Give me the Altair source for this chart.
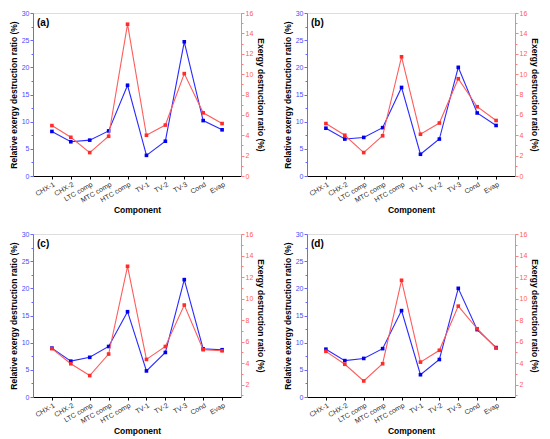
import altair as alt
import pandas as pd

components = ["CHX-1", "CHX-2", "LTC comp", "MTC comp", "HTC comp",
              "TV-1", "TV-2", "TV-3", "Cond", "Evap"]

# Relative exergy destruction ratio (%) - left axis (blue)
rel_a = [8.2, 6.3, 6.6, 8.3, 16.7, 3.8, 6.4, 24.7, 10.2, 8.5]
rel_b = [8.8, 6.8, 7.1, 8.9, 16.3, 4.0, 6.8, 20.0, 11.6, 9.3]
rel_c = [9.0, 6.6, 7.3, 9.3, 15.7, 4.8, 8.2, 21.6, 8.85, 8.7]
rel_d = [8.8, 6.7, 7.1, 8.9, 15.9, 4.1, 6.9, 20.0, 12.4, 9.1]

# Exergy destruction ratio (%) - right axis (red)
ed_a = [4.95, 3.8, 2.3, 3.9, 14.9, 4.0, 5.0, 10.05, 6.2, 5.15]
ed_b = [5.15, 4.0, 2.3, 3.95, 11.7, 4.1, 5.2, 9.55, 6.8, 5.45]
ed_c = [5.35, 3.95, 2.85, 4.85, 13.0, 4.35, 5.55, 9.4, 5.25, 5.15]
ed_d = [5.1, 3.9, 2.35, 3.95, 11.7, 4.1, 5.2, 9.3, 7.2, 5.4]

panels = [("(a)", rel_a, ed_a, 0.0),
          ("(b)", rel_b, ed_b, 0.0),
          ("(c)", rel_c, ed_c, 0.86),
          ("(d)", rel_d, ed_d, 0.86)]

BLUE_LINE = "#2a2aff"
BLUE_PT = "#0000ee"
BLUE_AX = "#6a6aff"
RED_LINE = "#ff5c5c"
RED_PT = "#ff2a2a"
RED_AX = "#ff8080"
FONT = "Liberation Sans"
W, H = 208, 163


def make_panel(label, rel, ed, rmin):
    df = pd.DataFrame({"Component": components, "rel": rel, "ed": ed})
    base = alt.Chart(df)
    x = alt.X("Component:N", sort=components,
              scale=alt.Scale(type="point", padding=1),
              axis=alt.Axis(title="Component", labelAngle=-30, labelFontSize=7,
                            labelFont=FONT, titleFont=FONT, titleFontSize=8.5,
                            titleFontWeight="bold", titleColor="black",
                            labelColor="#333333", domainColor="black",
                            tickColor="black", tickSize=3, labelPadding=1,
                            titlePadding=2, grid=False))
    left_vals = [i * 2.5 for i in range(13)]
    yl = alt.Y("rel:Q", scale=alt.Scale(domain=[0, 30], nice=False, zero=False),
               axis=alt.Axis(title="Relative exergy destruction ratio (%)",
                             values=left_vals,
                             labelExpr="datum.value % 5 == 0 ? datum.label : ''",
                             tickSize={"condition": {"test": "datum.value % 5 != 0", "value": 2}, "value": 3},
                             labelFontSize=7, labelFont=FONT, titleFont=FONT,
                             titleFontSize=8.5, titleFontWeight="bold",
                             titleColor="black", labelColor="#4a4aff",
                             domainColor=BLUE_AX, tickColor=BLUE_AX,
                             labelPadding=1, titlePadding=3, grid=False))
    right_vals = [v for v in range(0, 17) if v >= rmin]
    yr = alt.Y("ed:Q", scale=alt.Scale(domain=[rmin, 16], nice=False, zero=False),
               axis=alt.Axis(title="Exergy destruction ratio (%)", orient="right",
                             values=right_vals,
                             labelExpr="datum.value % 2 == 0 ? datum.label : ''",
                             tickSize={"condition": {"test": "datum.value % 2 != 0", "value": 2}, "value": 3},
                             labelFontSize=7, labelFont=FONT, titleFont=FONT,
                             titleFontSize=8.5, titleFontWeight="bold",
                             titleColor="black", labelColor="#ff5a5a",
                             domainColor=RED_AX, tickColor=RED_AX,
                             labelPadding=1, titlePadding=3, grid=False))
    blue = alt.layer(
        base.mark_line(color=BLUE_LINE, strokeWidth=1.1).encode(x=x, y=yl),
        base.mark_square(color=BLUE_PT, size=13, opacity=1).encode(x=x, y=yl),
    )
    red = alt.layer(
        base.mark_line(color=RED_LINE, strokeWidth=1.1).encode(x=x, y=yr),
        base.mark_square(color=RED_PT, size=13, opacity=1).encode(x=x, y=yr),
    )
    txt = alt.Chart(pd.DataFrame({"t": [label]})).mark_text(
        align="left", baseline="top", fontWeight="bold", fontSize=10,
        font=FONT, color="black").encode(
        x=alt.value(4), y=alt.value(5), text="t:N")
    return alt.layer(blue, red, txt).resolve_scale(y="independent").properties(
        width=W, height=H)


charts = [make_panel(*p) for p in panels]
top = alt.hconcat(charts[0], charts[1], spacing=16)
bottom = alt.hconcat(charts[2], charts[3], spacing=16)
chart = alt.vconcat(top, bottom, spacing=14).properties(padding=0).configure_view(
    stroke="#888888", strokeWidth=1).configure(background="white")

chart.save("out.html", embed_options={"renderer": "svg", "actions": False})
